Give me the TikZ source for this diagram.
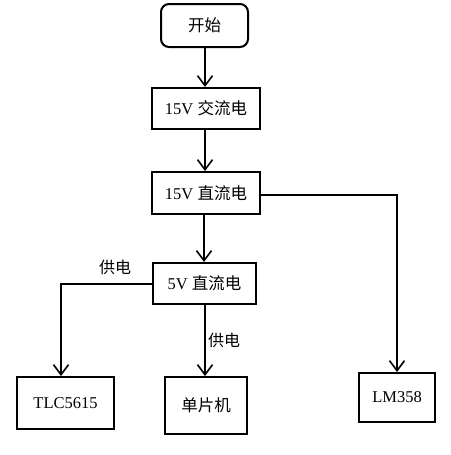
\documentclass[tikz,border=0pt]{standalone}
\usepackage{fontspec}
\setmainfont{Liberation Serif}
\newfontfamily\cjk{Noto Sans CJK SC}
\usetikzlibrary{arrows.meta}
\tikzset{
  box/.style={draw, line width=2pt, rectangle, inner sep=0pt, font=\fontsize{16.5}{18}\selectfont},
  arr/.style={line width=1.8pt, -{Straight Barb[length=10pt,width=15pt,line width=1.6pt]}},
  lbl/.style={font=\cjk\fontsize{16}{17}\selectfont, inner sep=0pt}
}
\begin{document}
\begin{tikzpicture}[x=1pt,y=-1pt]
\useasboundingbox[fill=white] (0,0) rectangle (450,455);
\node[box, rounded corners=8pt, minimum width=87pt, minimum height=43pt] (start) at (204.5,25.5) {\cjk 开始};
\node[box, minimum width=108pt, minimum height=41pt] (ac) at (206,108.5) {15V \cjk 交流电};
\node[box, minimum width=108pt, minimum height=42pt] (dc15) at (206,193) {15V \cjk 直流电};
\node[box, minimum width=103pt, minimum height=41pt] (dc5) at (204.5,283.5) {5V \cjk 直流电};
\node[box, minimum width=97pt, minimum height=52pt] (tlc) at (65.5,403) {TLC5615};
\node[box, minimum width=82pt, minimum height=57pt] (mcu) at (206,405.5) {\cjk 单片机};
\node[box, minimum width=76pt, minimum height=49pt] (lm) at (397,397.5) {LM358};
\coordinate (tlctop) at ([xshift=-4.5pt]tlc.north);
\coordinate (dcr) at ([yshift=-2pt]dc15.east);
\coordinate (dcl) at ([yshift=-0.5pt]dc5.west);
\draw[arr] ([xshift=0.5pt]start.south) -- ([xshift=0.5pt]start.south |- ac.north);
\draw[arr] ([xshift=0.5pt]ac.south -| start.south) -- ([xshift=0.5pt]start.south |- dc15.north);
\draw[arr] ([xshift=-2pt]dc15.south) -- ([xshift=-2pt]dc15.south |- dc5.north);
\draw[arr] ([xshift=0.5pt]dc5.south) -- ([xshift=0.5pt]dc5.south |- mcu.north);
\draw[arr] (dcr) -| (lm.north);
\draw[arr] (dcl) -| (tlctop);
\node[lbl] (l1) at (115,267) {供电};
\node[lbl] (l2) at (224,340) {供电};
\end{tikzpicture}
\end{document}
